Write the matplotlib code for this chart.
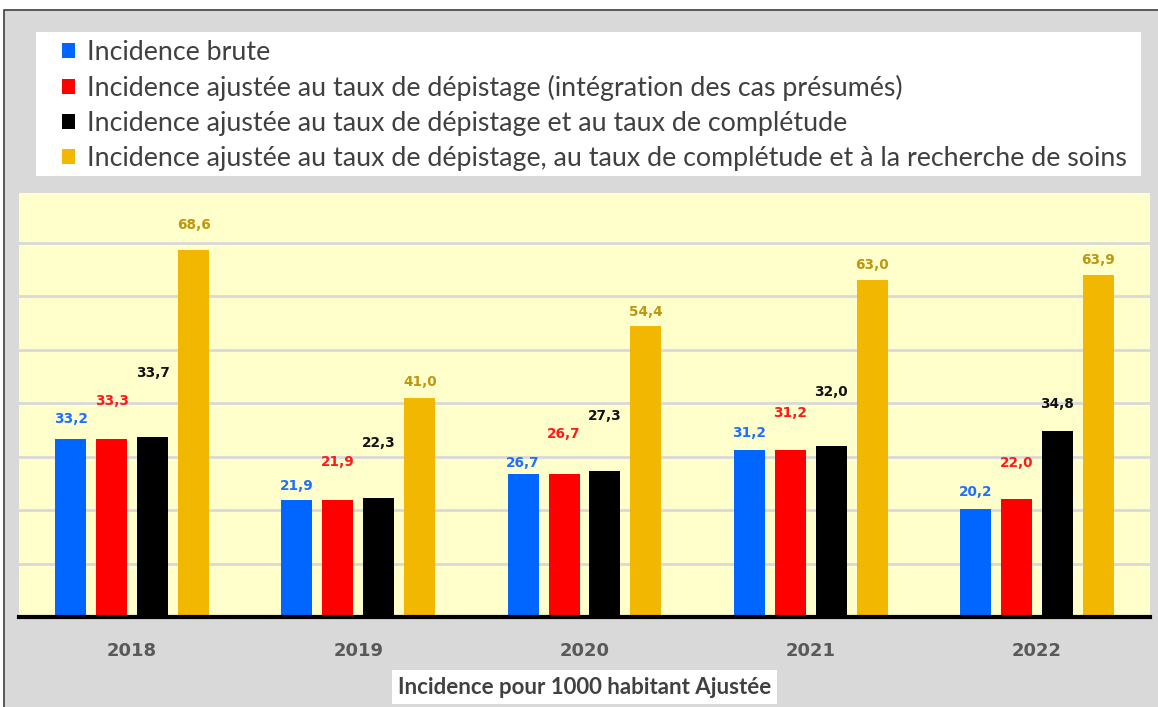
import matplotlib.pyplot as plt
import numpy as np
from matplotlib.patches import Rectangle

# Data
years = ['2018', '2019', '2020', '2021', '2022']
series_names = [
    'Incidence brute',
    'Incidence ajustée au taux de dépistage (intégration des cas présumés)',
    'Incidence ajustée au taux de dépistage et au taux de complétude',
    'Incidence ajustée au taux de dépistage, au taux de complétude et à la recherche de soins',
]
brute = [33.2, 21.9, 26.7, 31.2, 20.2]
ajustee_depistage = [33.3, 21.9, 26.7, 31.2, 22.0]
ajustee_completude = [33.7, 22.3, 27.3, 32.0, 34.8]
ajustee_soins = [68.6, 41.0, 54.4, 63.0, 63.9]
xlabel = 'Incidence pour 1000 habitant Ajustée'

# Styles
bar_colors = ['#0066ff', '#ff0000', '#000000', '#f2b700']
label_colors = ['#1f6fff', '#ff1a1a', '#111111', '#bf960f']
# vertical offset (pixels) of each value label above its bar
label_offsets = [
    [20, 14, 11, 17, 17],
    [38, 38, 40, 37, 36],
    [64, 55, 55, 54, 27],
    [25, 16, 14, 15, 15],
]

series = [brute, ajustee_depistage, ajustee_completude, ajustee_soins]

W, H = 1158, 707
fig = plt.figure(figsize=(W / 100, H / 100), dpi=100, facecolor='white')
# grey chart area with thin dark border
fig.patches.append(Rectangle((3.5 / W, -0.01), 1.02, 1 - 10 / H + 0.01, transform=fig.transFigure,
                             facecolor='#d9d9d9', edgecolor='#404040', lw=1.2, zorder=-10))
# white legend panel
fig.patches.append(Rectangle((36 / W, 1 - 176 / H), (1141 - 36) / W, (176 - 32) / H,
                             transform=fig.transFigure, facecolor='white', edgecolor='none', zorder=-5))

ax = fig.add_axes([19 / W, 1 - 617 / H, (1150 - 19) / W, (617 - 193) / H])
ax.set_facecolor('#ffffcc')

x = np.arange(len(years))
bar_width = 0.137
pitch = 0.181
handles = []
for i, (vals, name) in enumerate(zip(series, series_names)):
    pos = x + (i - 1.5) * pitch
    bars = ax.bar(pos, vals, bar_width, color=bar_colors[i], label=name, zorder=3)
    handles.append(bars)
    for j, (p, v) in enumerate(zip(pos, vals)):
        ax.annotate(f'{v:.1f}'.replace('.', ','), (p, v), xytext=(0, label_offsets[i][j]),
                    textcoords='offset pixels', ha='center', va='center',
                    fontsize=9.8, fontweight='bold', color=label_colors[i], zorder=4)

ax.set_xlim(-0.5, len(years) - 0.5)
ax.set_ylim(0, 79.3)
ax.set_yticks(np.arange(10, 80, 10))
ax.yaxis.grid(True, color='#d9d9d9', lw=2, zorder=0)
ax.tick_params(axis='y', left=False, labelleft=False)
ax.set_xticks(x)
ax.set_xticklabels(years, fontsize=13, fontweight='bold', color='#595959')
ax.tick_params(axis='x', length=0, pad=18)
for s in ['top', 'right', 'left']:
    ax.spines[s].set_visible(False)
ax.spines['bottom'].set_color('black')
ax.spines['bottom'].set_linewidth(3)
ax.spines['bottom'].set_zorder(5)

ax.set_xlabel(xlabel, fontsize=16, fontweight='bold', color='#404040', family='Lato', labelpad=12,
              bbox=dict(facecolor='white', edgecolor='none', pad=4.5))

leg = fig.legend(handles=handles, labels=series_names, loc='upper left',
                 bbox_to_anchor=(62 / W, 1 - 40 / H),
                 ncol=1, frameon=False,
                 prop={'family': 'Lato', 'size': 19.3},
                 handlelength=0.5, handleheight=0.5, handletextpad=0.45,
                 labelspacing=0.37, borderpad=0, borderaxespad=0, labelcolor='#404040')

fig.savefig('out.png', dpi=100, facecolor=fig.get_facecolor())
